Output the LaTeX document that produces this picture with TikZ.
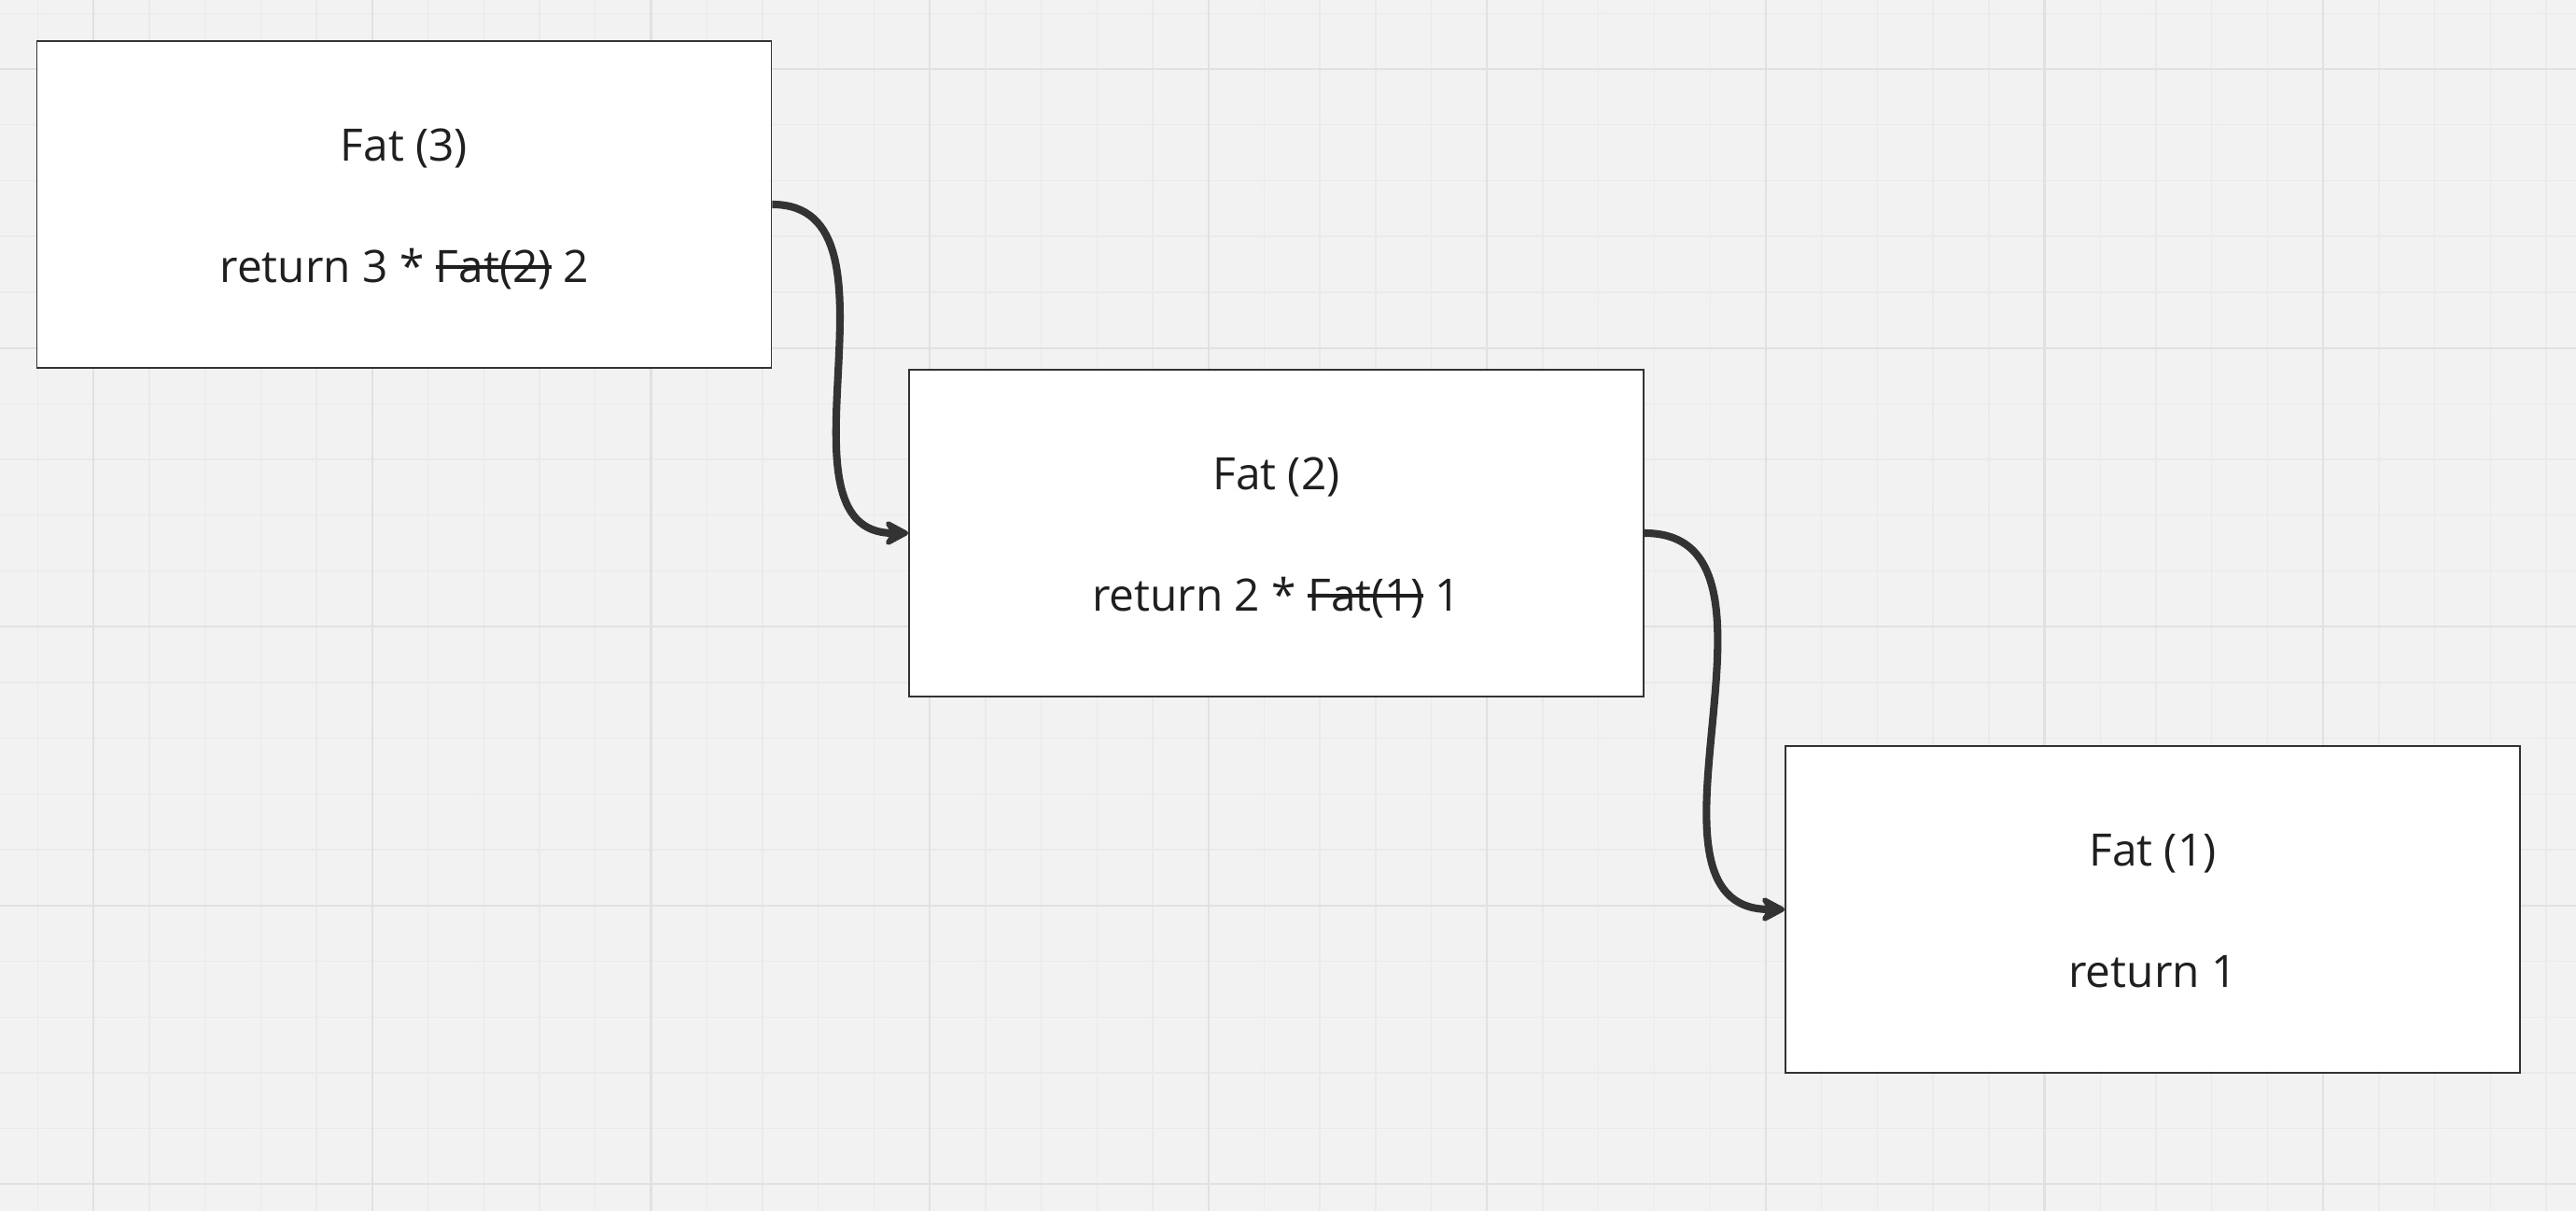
\documentclass[tikz,border=0pt]{standalone}
\usepackage{fontspec}
\setmainfont{Open Sans}
\usepackage{tikz}
\usetikzlibrary{arrows.meta}

\definecolor{fundo}{HTML}{F2F2F2}
\definecolor{linhafina}{HTML}{EAEAEA}
\definecolor{linhagrossa}{HTML}{E1E1E1}
\definecolor{tinta}{HTML}{333333}

% texto riscado
\newcommand{\riscar}[1]{\setbox0\hbox{#1}\rlap{\rule[0.6ex]{\wd0}{1.15pt}}\box0\relax}

\tikzset{
  quadro/.style={draw=tinta,line width=0.5pt,fill=white,minimum width=7.87cm,minimum height=3.5cm,inner sep=0pt},
  texto/.style={anchor=base,inner sep=0pt,text=black!88,font=\fontsize{13.6pt}{16pt}\selectfont},
  ligacao/.style={draw=tinta,line width=2.3pt,-{Stealth[length=9pt,width=9.6pt,inset=3pt,round]}}
}

\begin{document}
\begin{tikzpicture}
		\fill [fundo] (0,0) rectangle (27.6,12.97);
		\useasboundingbox (0,0) rectangle (27.6,12.97);
		% grade
		\foreach \i in {-1,...,44}
			\draw [linhafina,line width=0.4pt] ({1.003+0.5972*\i},0)--++(0,12.97);
		\foreach \j in {-1,...,20}
			\draw [linhafina,line width=0.4pt] (0,{12.23-0.5972*\j})--++(27.6,0);
		\foreach \i in {0,...,8}
			\draw [linhagrossa,line width=0.6pt] ({1.003+2.986*\i},0)--++(0,12.97);
		\foreach \j in {0,...,4}
			\draw [linhagrossa,line width=0.6pt] (0,{12.23-2.986*\j})--++(27.6,0);
		% chamadas
		\node [quadro] (fat3) at (4.33,10.78) {};
		\node [texto] (fat3t) at ([yshift=0.46cm]fat3.center) {Fat (3)};
		\node [texto] (fat3r) at ([yshift=-0.84cm]fat3.center) {return 3 * \riscar{Fat(2)} 2};
		\node [quadro] (fat2) at (13.675,7.26) {};
		\node [texto] (fat2t) at ([yshift=0.46cm]fat2.center) {Fat (2)};
		\node [texto] (fat2r) at ([yshift=-0.84cm]fat2.center) {return 2 * \riscar{Fat(1)} 1};
		\node [quadro] (fat1) at (23.065,3.23) {};
		\node [texto] (fat1t) at ([yshift=0.46cm]fat1.center) {Fat (1)};
		\node [texto] (fat1r) at ([yshift=-0.84cm]fat1.center) {return 1};
		\draw [ligacao] (fat3.east) .. controls +(1.55,0) and +(-1.55,0) .. (fat2.west);
		\draw [ligacao] (fat2.east) .. controls +(1.8,0) and +(-1.8,0) .. (fat1.west);
\end{tikzpicture}
\end{document}
